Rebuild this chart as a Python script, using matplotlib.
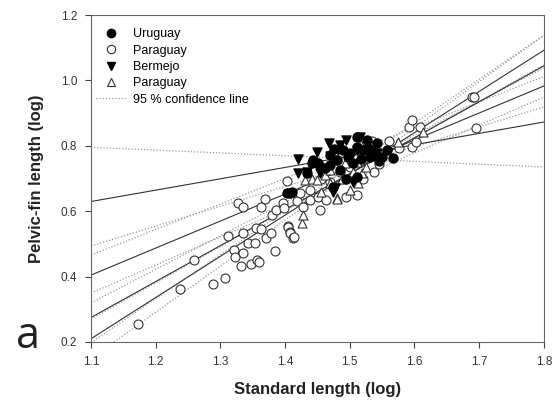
import numpy as np
import matplotlib
matplotlib.use("Agg")
import matplotlib.pyplot as plt

plt.rcParams['font.family'] = ['Liberation Sans', 'DejaVu Sans']

# Uruguay (filled circles)
uru_x = [1.403, 1.407, 1.410, 1.434, 1.441, 1.443, 1.449, 1.451, 1.469, 1.469, 1.474, 1.480,
         1.489, 1.500, 1.505, 1.511, 1.511, 1.512, 1.520, 1.526, 1.531, 1.536, 1.542, 1.550,
         1.557, 1.567, 1.495, 1.485, 1.462, 1.528, 1.545, 1.517, 1.498, 1.476]
uru_y = [0.656, 0.656, 0.659, 0.717, 0.747, 0.757, 0.747, 0.747, 0.741, 0.772, 0.674, 0.757,
         0.787, 0.778, 0.747, 0.796, 0.705, 0.827, 0.787, 0.818, 0.766, 0.781, 0.808, 0.766,
         0.787, 0.763, 0.700, 0.725, 0.733, 0.792, 0.752, 0.760, 0.765, 0.790]

# Paraguay (open circles)
par_x = [1.173, 1.2375, 1.259, 1.289, 1.307, 1.312, 1.321, 1.322, 1.327, 1.332, 1.335, 1.335,
         1.335, 1.343, 1.347, 1.353, 1.355, 1.357, 1.360, 1.363, 1.363, 1.369, 1.370, 1.378,
         1.380, 1.384, 1.386, 1.397, 1.398, 1.403, 1.404, 1.404, 1.407, 1.407, 1.412, 1.414,
         1.418, 1.423, 1.428, 1.438, 1.438, 1.451, 1.454, 1.463, 1.480, 1.494, 1.511, 1.534,
         1.537, 1.560, 1.576, 1.591, 1.596, 1.596, 1.602, 1.608, 1.689, 1.692, 1.695, 1.470,
         1.520, 1.545, 1.500, 1.455, 1.485]
par_y = [0.255, 0.362, 0.451, 0.377, 0.396, 0.524, 0.481, 0.460, 0.625, 0.432, 0.472, 0.533,
         0.613, 0.503, 0.439, 0.503, 0.549, 0.451, 0.445, 0.546, 0.613, 0.637, 0.518, 0.533,
         0.588, 0.478, 0.604, 0.625, 0.610, 0.692, 0.555, 0.552, 0.536, 0.533, 0.518, 0.521,
         0.631, 0.656, 0.613, 0.634, 0.665, 0.643, 0.604, 0.634, 0.757, 0.643, 0.650, 0.815,
         0.720, 0.815, 0.793, 0.857, 0.879, 0.796, 0.812, 0.857, 0.949, 0.949, 0.854, 0.690,
         0.700, 0.745, 0.735, 0.700, 0.720]

# Bermejo (filled down triangles)
ber_x = [1.420, 1.420, 1.434, 1.449, 1.454, 1.468, 1.469, 1.474, 1.482, 1.485, 1.495, 1.505,
         1.512, 1.516, 1.531, 1.542, 1.478, 1.500]
ber_y = [0.760, 0.717, 0.720, 0.781, 0.717, 0.808, 0.769, 0.659, 0.787, 0.802, 0.818, 0.689,
         0.787, 0.827, 0.766, 0.778, 0.670, 0.765]

# Paraguay (open triangles)
pat_x = [1.426, 1.428, 1.431, 1.441, 1.449, 1.462, 1.469, 1.469, 1.480, 1.480, 1.492, 1.500,
         1.505, 1.512, 1.513, 1.516, 1.519, 1.531, 1.574, 1.613, 1.455, 1.488, 1.525]
pat_y = [0.564, 0.588, 0.695, 0.700, 0.695, 0.711, 0.726, 0.686, 0.640, 0.637, 0.747, 0.665,
         0.720, 0.750, 0.686, 0.808, 0.717, 0.808, 0.812, 0.842, 0.660, 0.700, 0.735]

# regression lines (y = a + b*x) and 95 % confidence lines
fit_a = [0.248, -0.504, -0.934, -1.176]
fit_b = [0.347, 0.826, 1.099, 1.260]
conf_a = [0.890, -0.392, -0.174, -0.809, -0.592, -1.278, -0.951, -1.401]
conf_b = [-0.086, 0.780, 0.607, 1.026, 0.856, 1.342, 1.110, 1.410]

fig = plt.figure(figsize=(5.6, 4.0), dpi=100)
ax = fig.add_axes([0.1625, 0.145, 0.8085, 0.8175])

xx = np.array([1.1, 1.8])
for a, b in zip(conf_a, conf_b):
    ax.plot(xx, a + b * xx, color='#999999', lw=0.9, ls=(0, (1, 1.5)), zorder=1)
for a, b in zip(fit_a, fit_b):
    ax.plot(xx, a + b * xx, color='#333333', lw=0.8, zorder=2)

ms = 42
ax.scatter(par_x, par_y, s=ms, facecolors='white', edgecolors='#333333', lw=0.8, zorder=3)
ax.scatter(pat_x, pat_y, s=ms, marker='^', facecolors='white', edgecolors='#333333', lw=0.8, zorder=4)
ax.scatter(uru_x, uru_y, s=ms, color='black', zorder=5)
ax.scatter(ber_x, ber_y, s=ms, marker='v', color='black', zorder=5)

# legend handles
h1, = ax.plot([], [], 'o', ms=6, color='black')
h2, = ax.plot([], [], 'o', ms=6, mfc='white', mec='#333333', mew=0.8)
h3, = ax.plot([], [], 'v', ms=6, color='black')
h4, = ax.plot([], [], '^', ms=6, mfc='white', mec='#333333', mew=0.8)
h5, = ax.plot([], [], color='#999999', lw=0.9, ls=(0, (1, 1.5)))
ax.legend([h1, h2, h3, h4, h5],
          ['Uruguay', 'Paraguay', 'Bermejo', 'Paraguay', '95 % confidence line'],
          loc='upper left', bbox_to_anchor=(-0.01, 0.99), frameon=False, fontsize=9,
          handlelength=2.3, handletextpad=0.6, labelspacing=0.35, borderpad=0.3)

ax.set_xlim(1.1, 1.8)
ax.set_ylim(0.2, 1.2)
ax.set_xticks(np.arange(1.1, 1.81, 0.1))
ax.set_yticks(np.arange(0.2, 1.21, 0.2))
ax.set_xticklabels(['1.1', '1.2', '1.3', '1.4', '1.5', '1.6', '1.7', '1.8'])
ax.set_yticklabels(['0.2', '0.4', '0.6', '0.8', '1.0', '1.2'])
ax.tick_params(direction='out', length=4, width=0.8, labelsize=8.5, colors='#444444',
               labelcolor='#333333', pad=6)
for sp in ax.spines.values():
    sp.set_color('#666666')
    sp.set_linewidth(0.8)

ax.set_xlabel('Standard length (log)', fontsize=12, fontweight='bold', color='#222222', labelpad=10)
ax.set_ylabel('Pelvic-fin length (log)', fontsize=12, fontweight='bold', color='#222222', labelpad=12)

fig.text(0.028, 0.13, 'a', fontsize=31, family='Open Sans', color='#222222')

fig.savefig('out.png', dpi=100)
